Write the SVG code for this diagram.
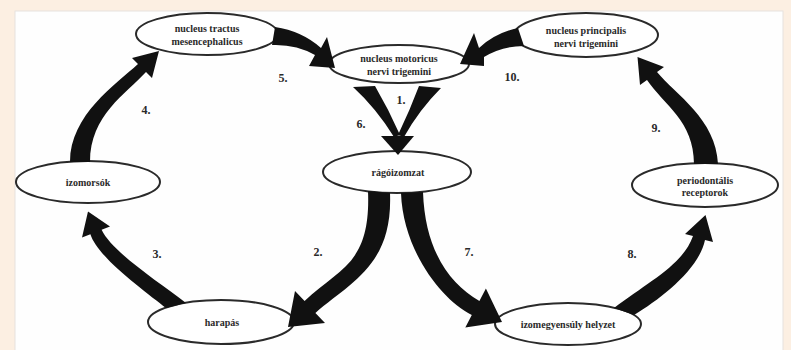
<svg xmlns="http://www.w3.org/2000/svg" width="791" height="350" viewBox="0 0 791 350">
<style>
.bg{fill:#fcefe2}
.panel{fill:#fefefe;stroke:#e6e2de;stroke-width:1}
.node ellipse{fill:#ffffff;stroke:#2a2a2a;stroke-width:2}
.lbl{font-family:"Liberation Serif","Times New Roman",serif;font-size:10px;font-weight:bold;fill:#2a2a2a;text-anchor:middle}
.num{font-family:"Liberation Serif","Times New Roman",serif;font-size:12px;font-weight:bold;fill:#2a2a2a;text-anchor:middle}
.arr{fill:#111111;stroke:none}
</style>
<rect class="bg" x="0" y="0" width="791" height="350"/>
<rect class="panel" x="15" y="11" width="768" height="345"/>

<g id="node-tractus" class="node">
  <ellipse cx="207" cy="34" rx="71" ry="21"/>
  <text class="lbl" x="207" y="32">nucleus tractus</text>
  <text class="lbl" x="207" y="45">mesencephalicus</text>
</g>
<g id="node-motoricus" class="node">
  <ellipse cx="399" cy="64" rx="70" ry="19"/>
  <text class="lbl" x="399" y="62">nucleus motoricus</text>
  <text class="lbl" x="399" y="75">nervi trigemini</text>
</g>
<g id="node-principalis" class="node">
  <ellipse cx="586" cy="35" rx="72" ry="22"/>
  <text class="lbl" x="586" y="34">nucleus principalis</text>
  <text class="lbl" x="586" y="47">nervi trigemini</text>
</g>
<g id="node-izomorsok" class="node">
  <ellipse cx="88" cy="182" rx="72" ry="21"/>
  <text class="lbl" x="88" y="186">izomorsók</text>
</g>
<g id="node-ragoizomzat" class="node">
  <ellipse cx="397" cy="172" rx="74" ry="21"/>
  <text class="lbl" x="398" y="176">rágóizomzat</text>
</g>
<g id="node-periodontalis" class="node">
  <ellipse cx="705" cy="185" rx="73" ry="22"/>
  <text class="lbl" x="705" y="184">periodontális</text>
  <text class="lbl" x="705" y="196">receptorok</text>
</g>
<g id="node-harapas" class="node">
  <ellipse cx="221" cy="322" rx="73" ry="22"/>
  <text class="lbl" x="222" y="326">harapás</text>
</g>
<g id="node-izomegyensuly" class="node">
  <ellipse cx="568" cy="324" rx="73" ry="21"/>
  <text class="lbl" x="568" y="328">izomegyensúly helyzet</text>
</g>

<g id="connectors">
  <!-- 5: tractus -> motoricus -->
  <path class="arr" d="M 275,27 Q 302,31 321,48 L 327,37 L 335,68 L 309,66 L 315,55 Q 296,44 272,45 Z"/>
  <!-- 10: principalis -> motoricus -->
  <path class="arr" d="M 518,28 Q 495,33 479,48 L 474,33 L 460,64 L 484,66 L 484,57 Q 502,46 524,46 Z"/>
  <!-- 6 and 1: motoricus -> ragoizomzat -->
  <path class="arr" d="M 353,87 L 375,86 Q 389,110 400,135 L 394,137 Q 376,108 353,87 Z"/>
  <path class="arr" d="M 419,86 L 441,88 Q 419,110 404,137 L 398,135 Q 410,110 419,86 Z"/>
  <path class="arr" d="M 381,136 L 414,136 L 398,155 Z"/>
  <!-- 2: ragoizomzat -> harapas -->
  <path class="arr" d="M 368,191 C 371,265 339,268 304.6,301.1 L 295,291 L 288,327 L 325,323 L 315.4,312.9 C 351,282 393,265 390,193 Z"/>
  <!-- 3: harapas -> izomorsok -->
  <path class="arr" d="M 186,303 C 159,282 112,252 101.6,229.8 L 110,226.6 L 88,211.5 L 82,237.4 L 90.4,234.2 C 98,258 146,292 166,308 Z"/>
  <!-- 4: izomorsok -> tractus -->
  <path class="arr" d="M 70,162 C 70,115 116,84 138,64 L 132,58 L 159,51 L 152,78 L 146,72 C 126,94 90,115 90,162 Z"/>
  <!-- 7: ragoizomzat -> izomegyensuly -->
  <path class="arr" d="M 401,193 C 403,250 440.8,299.4 471.8,315 L 465.3,327.4 L 502,322 L 485.9,288.6 L 479.4,301 C 449.2,283.6 425,250 423,192 Z"/>
  <!-- 8: izomegyensuly -> periodontalis -->
  <path class="arr" d="M 614,308 C 648,282 683,265 693,236 L 685,234 L 705.5,215 L 713,242 L 705,240 C 699,269 662,298 634,315 Z"/>
  <!-- 9: periodontalis -> principalis -->
  <path class="arr" d="M 718,164 C 716,119 676,95 657,72 L 664,67 L 637.5,57 L 640,85 L 647,80 C 664,105 694,121 694,164 Z"/>
</g>

<g id="labels">
  <text class="num" x="283" y="82">5.</text>
  <text class="num" x="146" y="114">4.</text>
  <text class="num" x="157" y="258">3.</text>
  <text class="num" x="318" y="256">2.</text>
  <text class="num" x="401" y="104">1.</text>
  <text class="num" x="361" y="128">6.</text>
  <text class="num" x="469" y="256">7.</text>
  <text class="num" x="632" y="258">8.</text>
  <text class="num" x="656" y="132">9.</text>
  <text class="num" x="512" y="81">10.</text>
</g>
</svg>
